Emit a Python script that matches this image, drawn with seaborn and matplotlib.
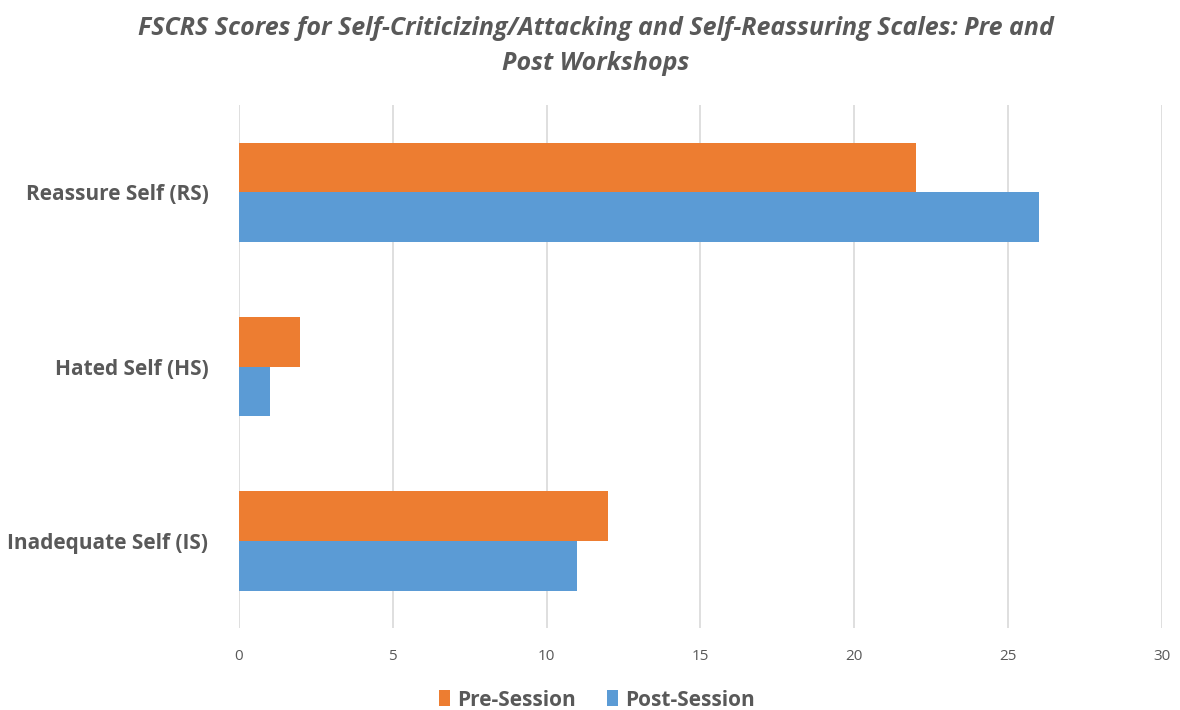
import numpy as np
import pandas as pd
import matplotlib.pyplot as plt
import seaborn as sns

categories = ["Reassure Self (RS)", "Hated Self (HS)", "Inadequate Self (IS)"]
pre_session = [22, 2, 12]
post_session = [26, 1, 11]
series_names = ["Pre-Session", "Post-Session"]
x_ticks = [0, 5, 10, 15, 20, 25, 30]

COLORS = {"Pre-Session": "#ED7D31", "Post-Session": "#5B9BD5"}
TEXT = "#595959"

sns.set_style("white")
plt.rcParams["font.family"] = ["Open Sans", "DejaVu Sans"]

df = pd.DataFrame({
    "category": categories * 2,
    "score": pre_session + post_session,
    "session": [series_names[0]] * 3 + [series_names[1]] * 3,
})

fig = plt.figure(figsize=(11.8, 7.1), dpi=100)
ax = fig.add_axes([0.2025, 0.1155, 0.7822, 0.7365])

sns.barplot(data=df, y="category", x="score", hue="session",
            hue_order=series_names, order=categories, palette=COLORS,
            orient="h", width=0.57, saturation=1, linewidth=0,
            ax=ax, legend=True)

ax.set_xlim(0, 30)
ax.set_ylim(2.5, -0.5)
ax.set_xticks(x_ticks)
ax.xaxis.grid(True, color="#D9D9D9", linewidth=1.2)
ax.set_axisbelow(True)
for s in ax.spines.values():
    s.set_visible(False)
ax.set_xlabel("")
ax.set_ylabel("")
ax.tick_params(axis="x", length=0, pad=15, labelsize=11, labelcolor=TEXT)
ax.tick_params(axis="y", length=0, pad=22, labelsize=15, labelcolor=TEXT)
for lbl in ax.get_yticklabels():
    lbl.set_fontweight("bold")

handles, labels = ax.get_legend_handles_labels()
ax.get_legend().remove()
leg = fig.legend(handles, labels, loc="center", bbox_to_anchor=(0.506, 0.014),
                 ncol=2, frameon=False, handlelength=0.5, handleheight=0.8,
                 handletextpad=0.35, columnspacing=1.5,
                 prop={"size": 15, "weight": "bold"})
for t in leg.get_texts():
    t.set_color(TEXT)

fig.text(0.505, 0.935,
         "FSCRS Scores for Self-Criticizing/Attacking and Self-Reassuring Scales: Pre and\nPost Workshops",
         ha="center", va="center", fontsize=18, fontweight="bold",
         fontstyle="italic", color=TEXT, linespacing=1.5)

fig.savefig("out.png", dpi=100)
